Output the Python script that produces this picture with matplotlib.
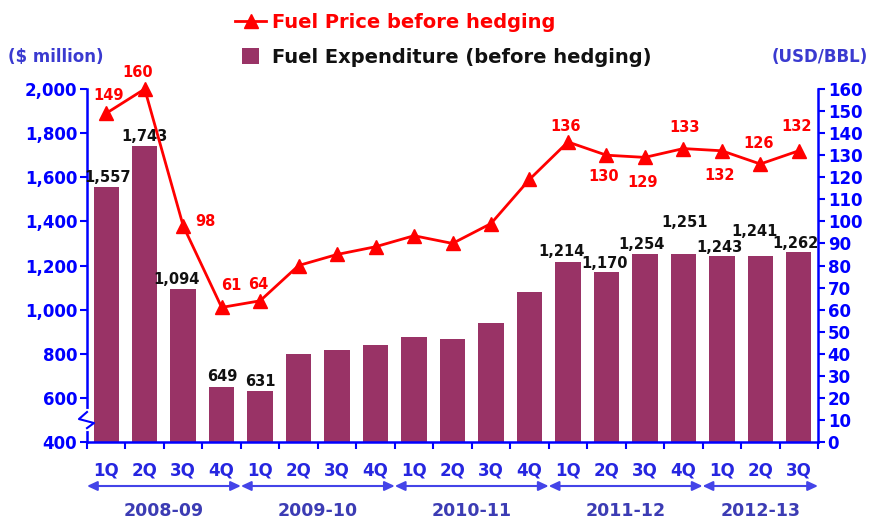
import matplotlib
matplotlib.use("Agg")
import matplotlib.pyplot as plt
import matplotlib.transforms as mtransforms
from matplotlib.lines import Line2D
from matplotlib.patches import Rectangle
from matplotlib.legend_handler import HandlerPatch

# ---------------- data ----------------
years = ["2008-09", "2009-10", "2010-11", "2011-12", "2012-13"]
quarters_per_year = [4, 4, 4, 4, 3]
quarter_labels = ["1Q", "2Q", "3Q", "4Q"] * 4 + ["1Q", "2Q", "3Q"]
expenditure = [1557, 1743, 1094, 649, 631, 800, 817, 840, 876, 867, 939, 1080,
               1214, 1170, 1254, 1251, 1243, 1241, 1262]
fuel_price = [149, 160, 98, 61, 64, 80, 85, 88.5, 93.5, 90, 99, 119,
              136, 130, 129, 133, 132, 126, 132]
labelled = [0, 1, 2, 3, 4, 12, 13, 14, 15, 16, 17, 18]

# label offsets (pixels) -- layout only
bar_lab_off = {0: (1, 9), 1: (0, 9), 2: (-7, 9), 3: (1, 11), 4: (0, 10),
               12: (-6, 11), 13: (-2, 9), 14: (-3, 9), 15: (1, 32),
               16: (-2, 9), 17: (-6, 25), 18: (-3, 8)}
line_lab_off = {0: (2, 18), 1: (-7, 17), 2: (22, 4), 3: (10, 22), 4: (-2, 16),
                12: (-2, 15), 13: (-3, -21), 14: (-2, -25), 15: (1, 21),
                16: (-2, -25), 17: (-2, 21), 18: (-2, 24)}

BAR_C = "#993366"
RED = "#FF0000"
BLUE = "#0000FF"
SOFTBLUE = "#3A3AD0"

W, H = 877, 521
fig = plt.figure(figsize=(W / 100, H / 100), dpi=100)
ax = fig.add_axes([87 / W, (H - 442) / H, 731 / W, 353 / H])
ax2 = ax.twinx()

n = len(expenditure)
x = list(range(n))
ax.bar(x, expenditure, width=0.66, color=BAR_C, zorder=2)
ax.set_xlim(-0.5, n - 0.5)
ax.set_ylim(400, 2000)
ax2.set_ylim(0, 160)

ax2.plot(x, fuel_price, color=RED, lw=2.0, marker="^", markersize=10,
         markeredgecolor=RED, markerfacecolor=RED, zorder=5, clip_on=False)

# bar labels
for i in labelled:
    dx, dy = bar_lab_off[i]
    ax.annotate(f"{expenditure[i]:,}", (x[i], expenditure[i]), xytext=(dx, dy),
                textcoords="offset pixels", ha="center", va="center",
                fontsize=10.5, fontweight="bold", color="#111111", zorder=6)
# line labels
for i in labelled:
    dx, dy = line_lab_off[i]
    ax2.annotate(f"{fuel_price[i]:g}", (x[i], fuel_price[i]), xytext=(dx, dy),
                 textcoords="offset pixels", ha="center", va="center",
                 fontsize=10.5, fontweight="bold", color=RED, zorder=6)

# axes styling
for a in (ax, ax2):
    a.spines["top"].set_visible(False)
ax.spines["right"].set_visible(False)
ax2.spines["left"].set_visible(False)
ax2.spines["bottom"].set_visible(False)
for s in ("left", "bottom"):
    ax.spines[s].set_color(BLUE)
    ax.spines[s].set_linewidth(1.8)
ax2.spines["right"].set_color(BLUE)
ax2.spines["right"].set_linewidth(1.8)

ax.set_yticks(range(400, 2001, 200))
ax.set_yticklabels([f"{v:,}" for v in range(400, 2001, 200)])
ax.tick_params(axis="y", colors=BLUE, labelsize=12, length=5, width=1.5, pad=2)
for t in ax.get_yticklabels():
    t.set_fontweight("bold")
ax2.set_yticks(range(0, 161, 10))
ax2.tick_params(axis="y", colors=BLUE, labelsize=12, length=5, width=1.5, pad=2)
for t in ax2.get_yticklabels():
    t.set_fontweight("bold")

ax.set_xticks([i - 0.5 for i in range(n + 1)])
ax.set_xticklabels([])
ax.set_xticks(x, minor=True)
ax.set_xticklabels(quarter_labels, minor=True)
ax.tick_params(axis="x", which="major", colors=BLUE, length=5, width=1.5, direction="out")
ax.tick_params(axis="x", which="minor", length=0, pad=14, labelsize=12,
               labelcolor="#2626E0")
for t in ax.get_xticklabels(minor=True):
    t.set_fontweight("bold")

# axis break zigzag
tr = mtransforms.blended_transform_factory(ax.transAxes, ax.transData)
ax.plot([0, 0], [540, 460], transform=tr, color="white", lw=3, clip_on=False, zorder=7)
ax.plot([0, -0.011, 0.0096, 0], [536, 504, 486, 463], transform=tr, color=BLUE,
        lw=1.5, clip_on=False, zorder=8)

# year arrows and labels
btr = mtransforms.blended_transform_factory(ax.transData, fig.transFigure)
start = -0.5
for yname, q in zip(years, quarters_per_year):
    end = start + q
    ax.annotate("", xy=(end, 1 - 486 / H), xytext=(start, 1 - 486 / H),
                xycoords=btr, textcoords=btr,
                arrowprops=dict(arrowstyle="<|-|>,head_length=0.6,head_width=0.28",
                                color="#4444E8", lw=1.5, shrinkA=0, shrinkB=0),
                annotation_clip=False)
    ax.text((start + end) / 2, 1 - 511 / H, yname, transform=btr, ha="center",
            va="center", fontsize=12.5, fontweight="bold", color="#3C3CB4")
    start = end

# axis unit labels
fig.text(8 / W, 1 - 57 / H, "($ million)", ha="left", va="center", fontsize=12,
         fontweight="bold", color=SOFTBLUE)
fig.text(868 / W, 1 - 57 / H, "(USD/BBL)", ha="right", va="center", fontsize=12,
         fontweight="bold", color=SOFTBLUE)


# legend
class SquarePatch(HandlerPatch):
    def create_artists(self, legend, orig_handle, xdescent, ydescent, width,
                       height, fontsize, trans):
        w = height * 1.25
        h = height * 1.2
        r = Rectangle((xdescent + (width - w) / 2, -ydescent + (height - h) / 2), w, h,
                      facecolor=BAR_C, edgecolor="none", transform=trans)
        return [r]


h_line = Line2D([], [], color=RED, lw=2, marker="^", markersize=10)
h_bar = Rectangle((0, 0), 1, 1, color=BAR_C)
leg = fig.legend([h_line, h_bar],
                 ["Fuel Price before hedging", "Fuel Expenditure (before hedging)"],
                 loc="upper left", bbox_to_anchor=(235 / W, 1 - 13 / H),
                 frameon=False, fontsize=14, handlelength=1.6, handletextpad=0.3,
                 labelspacing=0.8, borderpad=0, borderaxespad=0,
                 handler_map={Rectangle: SquarePatch()})
for t, c in zip(leg.get_texts(), [RED, "#111111"]):
    t.set_color(c)
    t.set_fontweight("bold")

fig.savefig("out.png", dpi=100)
